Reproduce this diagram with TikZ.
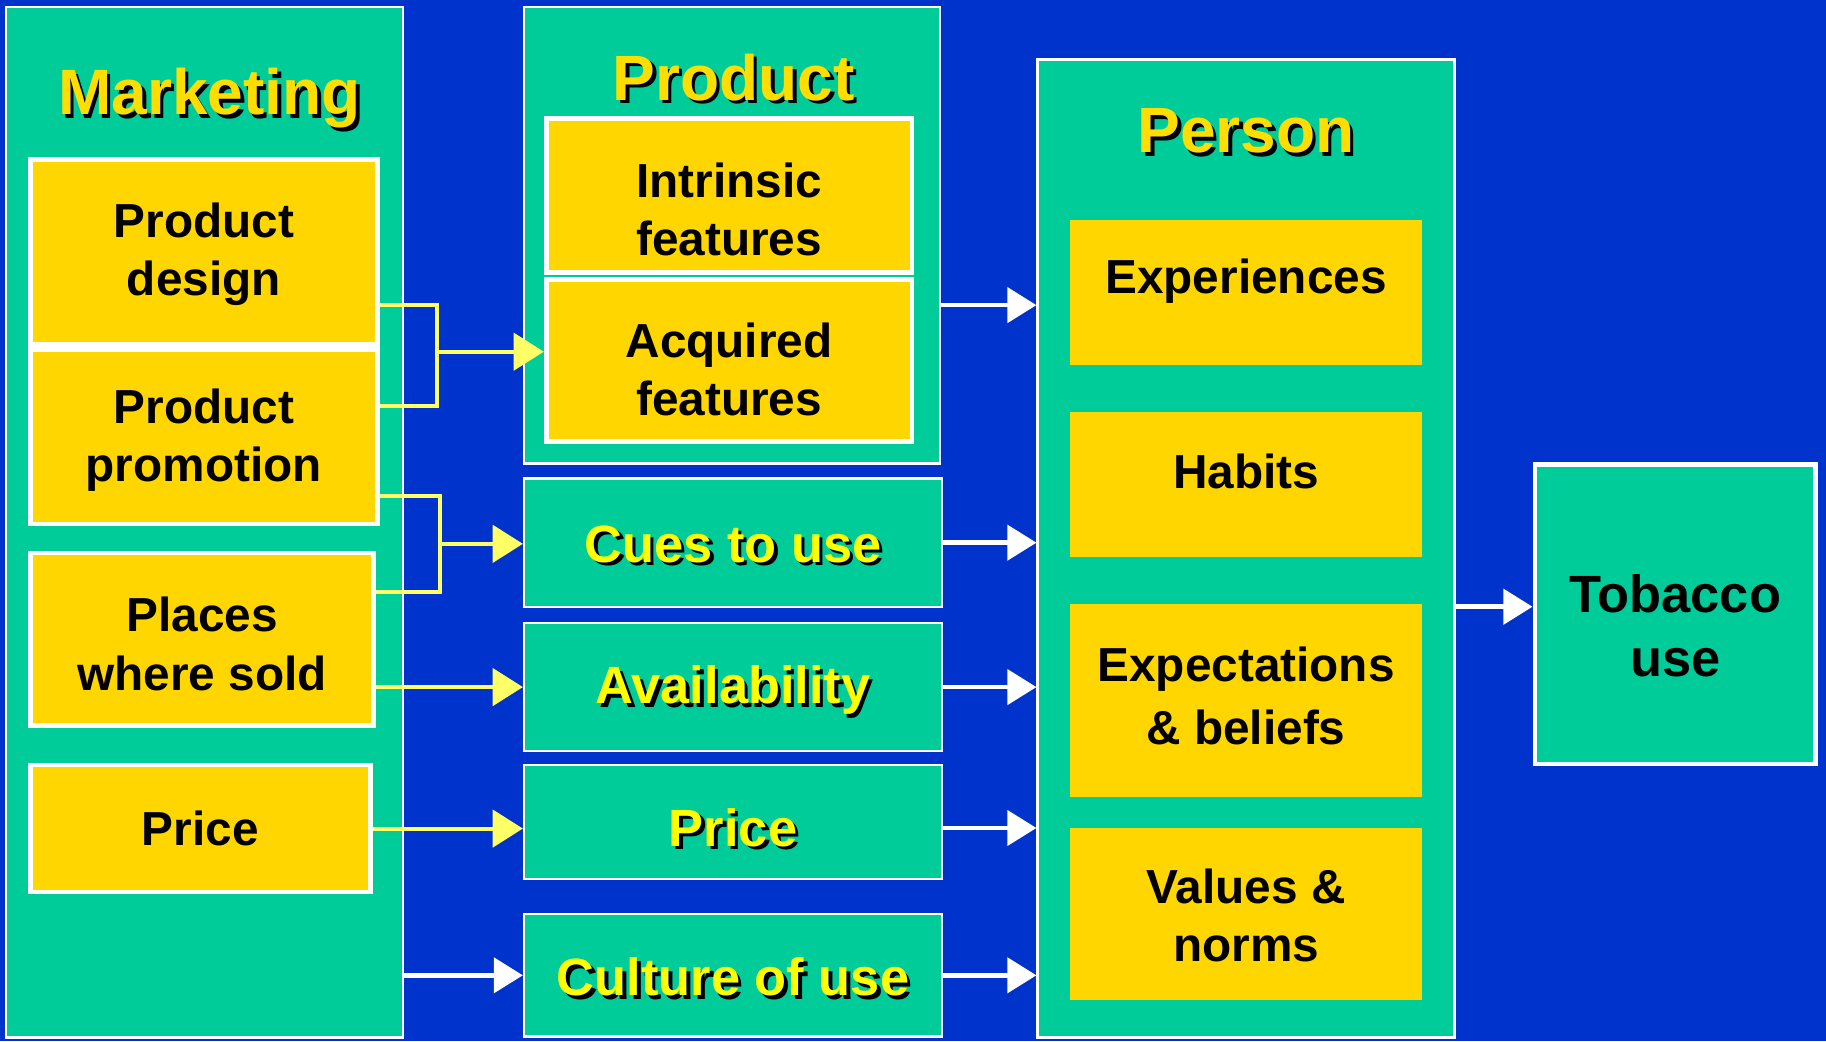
\documentclass[tikz,border=0pt]{standalone}
\usepackage{fontspec}
\setmainfont{Liberation Sans}
\usetikzlibrary{arrows.meta}

\definecolor{bg}{RGB}{0,51,204}
\definecolor{panelgreen}{RGB}{0,204,153}
\definecolor{boxyellow}{RGB}{255,214,0}
\definecolor{titlegold}{RGB}{255,221,0}
\definecolor{labelyellow}{RGB}{255,255,0}
\definecolor{linkyellow}{RGB}{255,255,102}

% text with a black drop shadow
\newcommand\shadowed[1]{\leavevmode\rlap{\kern3pt\raisebox{-3pt}{\color{black}#1}}#1}

\tikzset{
  panel/.style={draw=white, line width=2pt, fill=panelgreen, inner sep=0pt},
  factor/.style={draw=white, line width=4pt, fill=boxyellow, inner sep=0pt},
  trait/.style={fill=boxyellow, inner sep=0pt},
  outcome/.style={draw=white, line width=4pt, fill=panelgreen, inner sep=0pt},
  bodytext/.style={font=\fontsize{41}{50}\selectfont\bfseries, align=center, text=black, inner sep=0pt},
  headtext/.style={font=\fontsize{55}{60}\selectfont\bfseries, text=titlegold, inner sep=0pt},
  channeltext/.style={font=\fontsize{45}{54}\selectfont\bfseries, text=labelyellow, inner sep=0pt},
  link/.style={draw=linkyellow, line width=3.5pt, line join=miter},
  linkarrow/.style={link, -{Triangle[length=26pt,width=32pt]}},
  flow/.style={draw=white, line width=4pt, -{Triangle[length=25pt,width=30pt]}},
}

\begin{document}
\begin{tikzpicture}[x=1pt, y=-1pt]
  \fill[bg] (0,0) rectangle (1568,894);
  \useasboundingbox (0,0) rectangle (1568,894);

  % ---- Marketing column ----
  \node[panel, minimum width=341pt, minimum height=885pt] (mkt) at (175.5,448.5) {};
  \node[headtext] (mkt-t) at (180,86) {\shadowed{Marketing}};
  \node[factor, minimum width=298pt, minimum height=159pt] (design) at (175,216.5) {};
  \node[bodytext] (design-t) at ([yshift=-2pt]design.center) {Product\\design};
  \node[factor, minimum width=298pt, minimum height=150pt] (promo) at (175,375) {};
  \node[bodytext] (promo-t) at ([yshift=-3pt]promo.center) {Product\\promotion};
  \node[factor, minimum width=295pt, minimum height=148pt] (places) at (173.5,549) {};
  \node[bodytext] (places-t) at ([yshift=-4pt]places.center) {Places\\where sold};
  \node[factor, minimum width=292pt, minimum height=109pt] (mprice) at (172,711.5) {};
  \node[bodytext] (mprice-t) at (mprice) {Price};

  % ---- Product column ----
  \node[panel, minimum width=357pt, minimum height=392pt] (product) at (628.5,202) {};
  \node[headtext] (product-t) at (630,68) {\shadowed{Product}};
  \node[factor, minimum width=314pt, minimum height=132pt] (intr) at (626,168) {};
  \node[bodytext] (intr-t) at ([yshift=-12pt]intr.center) {Intrinsic\\features};
  \node[factor, minimum width=314pt, minimum height=139pt] (acq) at (626,309.5) {};
  \node[bodytext] (acq-t) at ([yshift=-8pt]acq.center) {Acquired\\features};

  \node[panel, minimum width=359pt, minimum height=110pt] (cues) at (629.5,466) {};
  \node[channeltext] (cues-t) at ([yshift=-3pt]cues.center) {\shadowed{Cues to use}};
  \node[panel, minimum width=359pt, minimum height=110pt] (avail) at (629.5,590) {};
  \node[channeltext] (avail-t) at ([yshift=-4pt]avail.center) {\shadowed{Availability}};
  \node[panel, minimum width=359pt, minimum height=98pt] (pprice) at (629.5,706) {};
  \node[channeltext] (pprice-t) at ([yshift=-6pt]pprice.center) {\shadowed{Price}};
  \node[panel, minimum width=359pt, minimum height=105pt] (culture) at (629.5,837.5) {};
  \node[channeltext] (culture-t) at ([yshift=-3pt]culture.center) {\shadowed{Culture of use}};

  % ---- Person column ----
  \node[panel, minimum width=358pt, minimum height=840pt] (person) at (1070,471) {};
  \node[headtext] (person-t) at (1070,114) {\shadowed{Person}};
  \node[trait, minimum width=302pt, minimum height=124pt] (exp) at (1070,251) {};
  \node[bodytext] (exp-t) at ([yshift=10pt]exp.center) {Experiences};
  \node[trait, minimum width=302pt, minimum height=124pt] (hab) at (1070,416) {};
  \node[bodytext] (hab-t) at ([yshift=11pt]hab.center) {Habits};
  \node[trait, minimum width=302pt, minimum height=165pt] (expb) at (1070,601.5) {};
  \node[bodytext, font=\fontsize{41}{54}\selectfont\bfseries] (expb-t) at ([yshift=4pt]expb.center) {Expectations\\\& beliefs};
  \node[trait, minimum width=302pt, minimum height=148pt] (vals) at (1070,785) {};
  \node[bodytext] (vals-t) at ([yshift=-1pt]vals.center) {Values \&\\norms};

  % ---- Outcome ----
  \node[outcome, minimum width=241pt, minimum height=257pt] (tob) at (1438.5,527.5) {};
  \node[bodytext, font=\fontsize{45}{55}\selectfont\bfseries] (tob-t) at ([yshift=-10pt]tob.center) {Tobacco\\use};

  % ---- Connector levels ----
  \coordinate (lvlA) at (0,262);
  \coordinate (lvlB) at (0,349);
  \coordinate (busA) at (375,302);
  \coordinate (lvlC) at (0,426);
  \coordinate (lvlD) at (0,508);
  \coordinate (busB) at (378,467);
  \coordinate (lvlE) at (0,711);
  \coordinate (lvlG) at (0,521);

  % marketing levers into product and channels
  \draw[link] (design.east |- lvlA) -| (busA |- lvlB) -- (promo.east |- lvlB);
  \draw[linkarrow] (busA) -- (acq.west |- busA);
  \draw[link] (promo.east |- lvlC) -| (busB |- lvlD) -- (places.east |- lvlD);
  \draw[linkarrow] (busB) -- (cues.west |- busB);
  \draw[linkarrow] (places.east |- avail.west) -- (avail.west);
  \draw[linkarrow] (mprice.east) -- (pprice.west |- mprice.east);
  \draw[flow] (mkt.east |- culture.west) -- (culture.west);

  % channels into the person
  \draw[flow] (product.east |- lvlA) -- (person.west |- lvlA);
  \draw[flow] (cues.east) -- (person.west |- cues.east);
  \draw[flow] (avail.east) -- (person.west |- avail.east);
  \draw[flow] (pprice.east |- lvlE) -- (person.west |- lvlE);
  \draw[flow] (culture.east) -- (person.west |- culture.east);

  % person to outcome
  \draw[flow] (person.east |- lvlG) -- (tob.west |- lvlG);
\end{tikzpicture}
\end{document}
